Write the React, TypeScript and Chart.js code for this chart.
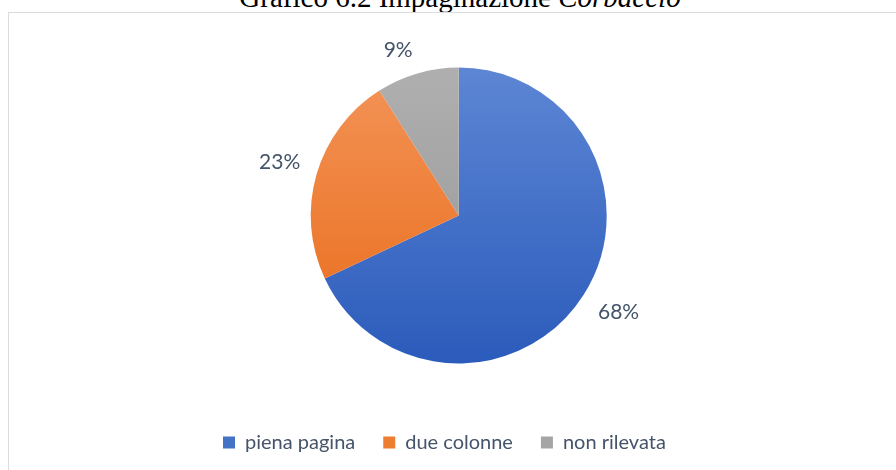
import React, { useEffect, useRef } from "react";
import { Chart, registerables } from "chart.js";

Chart.register(...registerables);

// ---- data ----
const categories = ["piena pagina", "due colonne", "non rilevata"];
const shares = [68, 23, 9]; // percent
const titleMain = "Grafico 6.2 Impaginazione ";
const titleItalic = "Corbaccio";

// ---- styles ----
const baseColors = ["#4472C4", "#ED7D31", "#A5A5A5"];
const lightColors = ["#5D86D4", "#F39458", "#AFAFAF"];
const darkColors = ["#2B5BBB", "#E96A18", "#959595"];
const textColor = "#44546A";
const PIE_RADIUS = 148;
const LABEL_GAP = 17;

const outsideLabels = {
  id: "outsideLabels",
  afterDatasetsDraw(chart: any) {
    const ctx = chart.ctx;
    const meta = chart.getDatasetMeta(0);
    const values = chart.data.datasets[0].data as number[];
    ctx.save();
    ctx.font = "21px Lato";
    ctx.fillStyle = textColor;
    ctx.textAlign = "center";
    ctx.textBaseline = "alphabetic";
    meta.data.forEach((arc: any, i: number) => {
      const p = arc.getProps(["x", "y", "startAngle", "endAngle", "outerRadius"], true);
      const mid = (p.startAngle + p.endAngle) / 2;
      const ux = Math.cos(mid);
      const uy = Math.sin(mid);
      const text = values[i] + "%";
      const w = ctx.measureText(text).width;
      const h = 15;
      const R = p.outerRadius + LABEL_GAP;
      const cx = p.x + R * ux + Math.sign(ux) * (w / 2);
      const cy = p.y + R * uy + Math.sign(uy) * (h / 2);
      ctx.fillText(text, cx, cy + h / 2);
    });
    ctx.restore();
  },
};

function sliceFill(ctx: any) {
  const i = ctx.dataIndex ?? 0;
  const chart = ctx.chart;
  const a = chart.chartArea;
  if (!a) return baseColors[i];
  const cy = (a.top + a.bottom) / 2;
  const g = chart.ctx.createLinearGradient(0, cy - PIE_RADIUS, 0, cy + PIE_RADIUS);
  g.addColorStop(0, lightColors[i]);
  g.addColorStop(1, darkColors[i]);
  return g;
}

export default function App() {
  const ref = useRef<HTMLCanvasElement | null>(null);

  useEffect(() => {
    if (!ref.current) return;
    const chart = new Chart(ref.current, {
      type: "pie",
      data: {
        labels: categories,
        datasets: [
          {
            data: shares,
            backgroundColor: sliceFill as any,
            borderWidth: 0,
            radius: PIE_RADIUS,
          } as any,
        ],
      },
      options: {
        animation: false,
        responsive: false,
        devicePixelRatio: 1,
        layout: { padding: { left: 195, right: 173.6, top: 26.5, bottom: 7.5 } },
        plugins: {
          tooltip: { enabled: false },
          title: { display: false },
          legend: {
            display: true,
            position: "bottom",
            align: "start",
            labels: {
              boxWidth: 12,
              boxHeight: 12,
              padding: 28,
              color: textColor,
              font: { family: "Lato", size: 20 },
              generateLabels: (c: any) =>
                c.data.labels.map((t: string, i: number) => ({
                  text: t,
                  fillStyle: baseColors[i],
                  strokeStyle: baseColors[i],
                  lineWidth: 0,
                  hidden: false,
                  index: i,
                  fontColor: textColor,
                })),
            },
          },
        },
      } as any,
      plugins: [outsideLabels],
    });
    if ((document as any).fonts && (document as any).fonts.ready) {
      (document as any).fonts.ready.then(() => {
        try { chart.update(); } catch (e) {}
      });
    }
    return () => chart.destroy();
  }, []);

  return (
    <div
      style={{
        position: "fixed",
        left: 0,
        top: 0,
        width: 896,
        height: 470,
        overflow: "hidden",
        background: "#ffffff",
      }}
    >
      <div
        style={{
          position: "absolute",
          left: 0,
          top: -17,
          width: 920,
          textAlign: "center",
          fontFamily: "'Liberation Serif', 'Times New Roman', serif",
          fontSize: 29,
          lineHeight: "29px",
          color: "#000",
          whiteSpace: "nowrap",
        }}
      >
        {titleMain}
        <i>{titleItalic}</i>
      </div>
      <div
        style={{
          position: "absolute",
          left: 8,
          top: 12,
          width: 920,
          height: 480,
          border: "1px solid #D9DDE2",
          background: "#ffffff",
          boxSizing: "border-box",
        }}
      />
      <canvas
        ref={ref}
        width={896}
        height={470}
        style={{ position: "absolute", left: 0, top: 0, width: 896, height: 470 }}
      />
    </div>
  );
}
